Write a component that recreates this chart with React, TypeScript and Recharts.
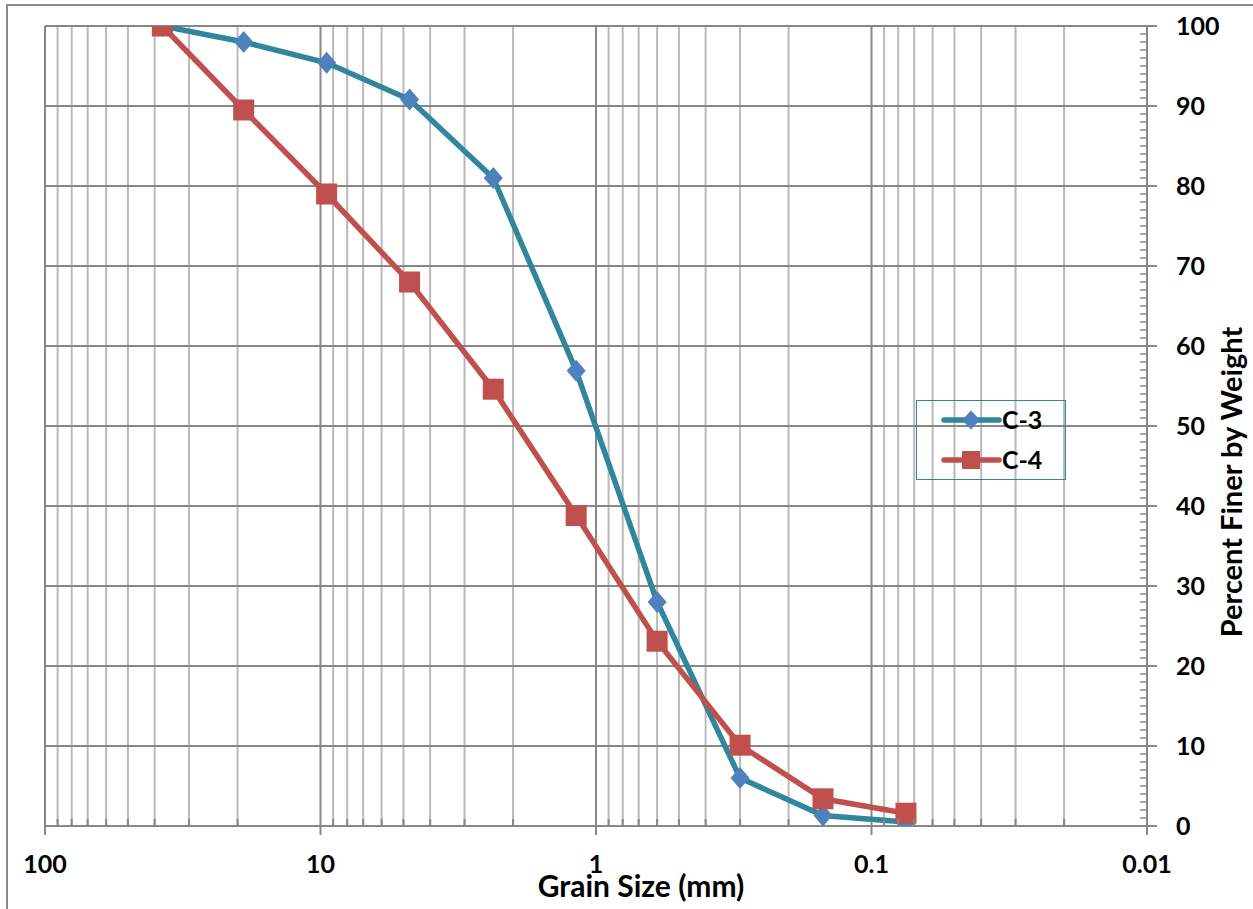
import React from 'react';
import { LineChart, Line, XAxis, YAxis, CartesianGrid, Legend, Label } from 'recharts';

// ---- data ----
const sieveSizes = [37.5, 19, 9.5, 4.75, 2.36, 1.18, 0.6, 0.3, 0.15, 0.075];
const c3Percent = [100, 98, 95.4, 90.8, 81, 56.9, 28, 6, 1.3, 0.5];
const c4Percent = [100, 89.5, 79, 68, 54.6, 38.8, 23.1, 10.1, 3.4, 1.6];
const seriesNames = ['C-3', 'C-4'];
const xMajorTicks = [100, 10, 1, 0.1, 0.01];
const xTickLabels = ['100', '10', '1', '0.1', '0.01'];
const yMajorTicks = [0, 10, 20, 30, 40, 50, 60, 70, 80, 90, 100];
const xTitle = 'Grain Size (mm)';
const yTitle = 'Percent Finer by Weight';

const c3Data = sieveSizes.map((s, i) => ({ size: s, pct: c3Percent[i] }));
const c4Data = sieveSizes.map((s, i) => ({ size: s, pct: c4Percent[i] }));

const decadeStarts = [0.01, 0.1, 1, 10];
const xMinorTicks = decadeStarts.flatMap((d) =>
  [2, 3, 4, 5, 6, 7, 8, 9].map((m) => +(d * m).toPrecision(6))
);
const xAllTicks = [...xMajorTicks, ...xMinorTicks].sort((a, b) => a - b);
const yAllTicks = Array.from({ length: 101 }, (_, i) => i);

// ---- styles ----
const FONT = 'Lato, "Open Sans", sans-serif';
const AXIS = '#878787';
const MINOR = '#b9b9b9';
const C3_LINE = '#31859C';
const C3_MARK = '#4F81BD';
const C4 = '#C0504D';

const X_TICK_SIZE = 9;
const X_TICK_MARGIN = 22;
const Y_TICK_SIZE = 10;
const Y_TICK_MARGIN = 19;

function XTick(props: any) {
  const { x, y, payload } = props;
  const v = payload.value;
  const axisY = y - X_TICK_SIZE - X_TICK_MARGIN;
  const idx = xMajorTicks.findIndex((m) => Math.abs(m - v) < 1e-9);
  if (idx >= 0) {
    return (
      <g>
        <line x1={x} x2={x} y1={axisY} y2={axisY + X_TICK_SIZE} stroke={AXIS} strokeWidth={2} />
        <text x={x} y={axisY + 47} textAnchor="middle" fontFamily={FONT} fontWeight={700} fontSize={25} fill="#000">
          {xTickLabels[idx]}
        </text>
      </g>
    );
  }
  return <line x1={x} x2={x} y1={axisY - 7} y2={axisY} stroke={AXIS} strokeWidth={2} />;
}

function YTick(props: any) {
  const { x, y, payload } = props;
  const v = payload.value;
  const axisX = x - Y_TICK_SIZE - Y_TICK_MARGIN;
  if (v % 10 === 0) {
    return (
      <g>
        <line x1={axisX} x2={axisX + Y_TICK_SIZE} y1={y} y2={y} stroke={AXIS} strokeWidth={2} />
        <text x={x} y={y + 9} textAnchor="start" fontFamily={FONT} fontWeight={700} fontSize={25} fill="#000">
          {String(v)}
        </text>
      </g>
    );
  }
  return <line x1={axisX - 7} x2={axisX} y1={y} y2={y} stroke={AXIS} strokeWidth={1.5} />;
}

function diamondPath(cx: number, cy: number, hw: number, hh: number) {
  return `M${cx},${cy - hh}L${cx + hw},${cy}L${cx},${cy + hh}L${cx - hw},${cy}Z`;
}

const renderDiamond = (props: any) => {
  const { cx, cy, index } = props;
  if (cx == null || cy == null) return <g key={`d-${index}`} />;
  return <path key={`d-${index}`} d={diamondPath(cx, cy, 9.5, 11)} fill={C3_MARK} />;
};

const renderSquare = (props: any) => {
  const { cx, cy, index } = props;
  if (cx == null || cy == null) return <g key={`s-${index}`} />;
  return <rect key={`s-${index}`} x={cx - 10.5} y={cy - 10.5} width={21} height={21} fill={C4} />;
};

const renderLegend = (props: any) => {
  const payload = props.payload || [];
  return (
    <div
      style={{
        width: 150,
        height: 80,
        border: '1.5px solid #31859C',
        boxSizing: 'border-box',
        position: 'relative',
      }}
    >
      <svg width={150} height={80} style={{ position: 'absolute', left: -1.5, top: -1.5, overflow: 'visible' }}>
        {payload.map((entry: any, i: number) => {
          const cy = 20 + i * 40;
          const isC3 = entry.value === seriesNames[0];
          return (
            <g key={entry.value}>
              <line x1={28} x2={83} y1={cy} y2={cy} stroke={isC3 ? C3_LINE : C4} strokeWidth={5.5} strokeLinecap="round" />
              {isC3 ? (
                <path d={diamondPath(55, cy, 9, 9.5)} fill={C3_MARK} />
              ) : (
                <rect x={46} y={cy - 9} width={18} height={18} fill={C4} />
              )}
              <text x={86} y={cy + 9} fontFamily={FONT} fontWeight={700} fontSize={25} fill="#000">
                {entry.value}
              </text>
            </g>
          );
        })}
      </svg>
    </div>
  );
};

export default function App() {
  return (
    <div
      style={{
        position: 'absolute',
        left: 0,
        top: 0,
        width: 1253,
        height: 909,
        overflow: 'hidden',
        background: '#fff',
      }}
    >
      <div
        style={{
          position: 'absolute',
          left: 6,
          top: 4,
          width: 1270,
          height: 920,
          border: '2px solid #8c8c8c',
        }}
      />
      <div style={{ position: 'absolute', left: 0, top: 0 }}>
        <LineChart width={1253} height={909} margin={{ top: 26, right: 6, bottom: 8, left: 45 }}>
          <CartesianGrid horizontal={false} verticalValues={xMinorTicks} stroke={MINOR} strokeWidth={2} />
          <CartesianGrid horizontal={false} verticalValues={xMajorTicks} stroke={AXIS} strokeWidth={2} />
          <CartesianGrid vertical={false} horizontalValues={yMajorTicks} stroke={AXIS} strokeWidth={2} />
          <XAxis
            dataKey="size"
            type="number"
            scale="log"
            domain={[0.01, 100]}
            allowDataOverflow
            reversed
            ticks={xAllTicks}
            interval={0}
            tick={XTick}
            tickLine={false}
            tickSize={X_TICK_SIZE}
            tickMargin={X_TICK_MARGIN}
            axisLine={{ stroke: AXIS, strokeWidth: 2 }}
            height={75}
          >
            <Label
              value={xTitle}
              position="center"
              dx={45}
              dy={23}
              style={{ fontFamily: FONT, fontWeight: 700, fontSize: 30, fill: '#000' }}
            />
          </XAxis>
          <YAxis
            orientation="right"
            type="number"
            domain={[0, 100]}
            allowDataOverflow
            ticks={yAllTicks}
            interval={0}
            tick={YTick}
            tickLine={false}
            tickSize={Y_TICK_SIZE}
            tickMargin={Y_TICK_MARGIN}
            axisLine={{ stroke: AXIS, strokeWidth: 2 }}
            width={100}
          >
            <Label
              value={yTitle}
              position="center"
              angle={-90}
              dx={35}
              dy={56}
              style={{ fontFamily: FONT, fontWeight: 700, fontSize: 29, fill: '#000' }}
            />
          </YAxis>
          <Legend
            layout="vertical"
            align="center"
            verticalAlign="middle"
            content={renderLegend}
            wrapperStyle={{ left: 916, top: 400, width: 150, height: 80 }}
          />
          <Line
            data={c3Data}
            dataKey="pct"
            name={seriesNames[0]}
            type="linear"
            stroke={C3_LINE}
            strokeWidth={5.5}
            dot={renderDiamond}
            activeDot={false}
            isAnimationActive={false}
          />
          <Line
            data={c4Data}
            dataKey="pct"
            name={seriesNames[1]}
            type="linear"
            stroke={C4}
            strokeWidth={5.5}
            dot={renderSquare}
            activeDot={false}
            isAnimationActive={false}
          />
        </LineChart>
      </div>
    </div>
  );
}
